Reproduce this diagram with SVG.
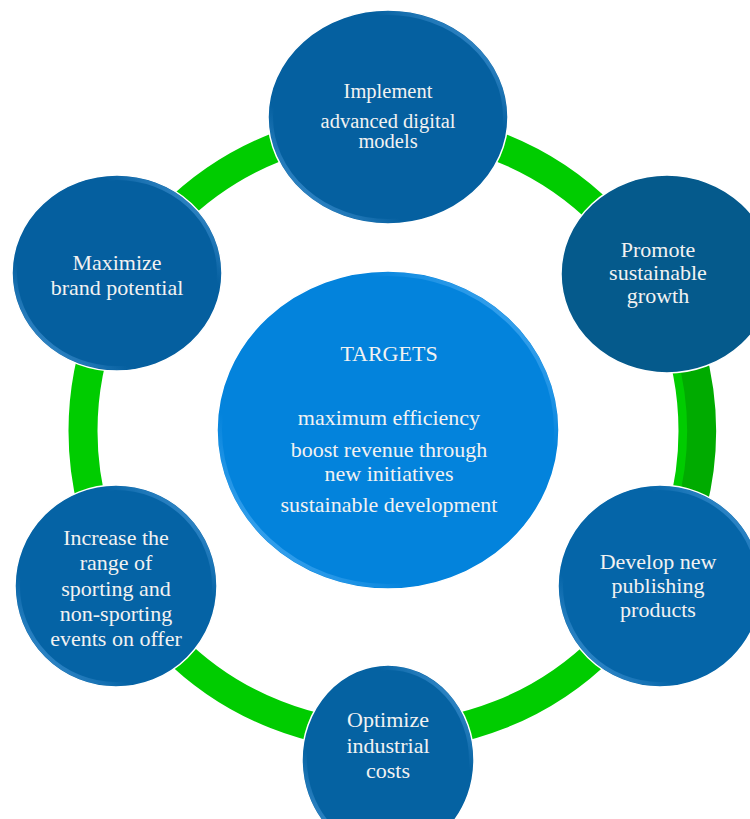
<svg xmlns="http://www.w3.org/2000/svg" width="750" height="819" viewBox="0 0 750 819">
  <defs>
    <linearGradient id="bevel" x1="1" y1="0" x2="0" y2="1">
      <stop offset="0" stop-color="#5aa8e8" stop-opacity="0.9"/>
      <stop offset="0.28" stop-color="#5aa8e8" stop-opacity="0"/>
      <stop offset="0.72" stop-color="#5aa8e8" stop-opacity="0"/>
      <stop offset="1" stop-color="#5aa8e8" stop-opacity="0.9"/>
    </linearGradient>
    <linearGradient id="bevelC" x1="1" y1="0" x2="0" y2="1">
      <stop offset="0" stop-color="#6cc0ff" stop-opacity="0.9"/>
      <stop offset="0.28" stop-color="#6cc0ff" stop-opacity="0"/>
      <stop offset="0.72" stop-color="#6cc0ff" stop-opacity="0"/>
      <stop offset="1" stop-color="#6cc0ff" stop-opacity="0.9"/>
    </linearGradient>
  </defs>
  <style>
    .node { stroke: #ffffff; stroke-width: 1.5; }
    .rim { fill: none; stroke: url(#bevel); stroke-width: 4; }
    .rimC { fill: none; stroke: url(#bevelC); stroke-width: 4; }
    .lbl { font-family: 'Liberation Serif', 'DejaVu Serif', serif; font-size: 22px; fill: #f2f2f2; text-anchor: middle; }
    .small { font-size: 20.5px; }
  </style>
  <rect width="750" height="819" fill="#ffffff"/>

  <g id="connectors">
    <circle cx="388" cy="431" r="305" fill="none" stroke="#00cc00" stroke-width="29"/>
    <path d="M 690.5 350 A 305 305 0 0 1 690.5 512" fill="none" stroke="#00ab00" stroke-width="29"/>
  </g>

  <g id="node-implement">
    <ellipse class="node" cx="388" cy="117" rx="120" ry="107" fill="#0560a0"/>
    <ellipse class="rim" cx="388" cy="117" rx="117" ry="104"/>
    <text class="lbl small" x="388" y="98" font-family="Liberation Serif, serif">Implement</text>
    <text class="lbl small" x="388" y="128" font-family="Liberation Serif, serif">advanced digital</text>
    <text class="lbl small" x="388" y="148" font-family="Liberation Serif, serif">models</text>
  </g>

  <g id="node-promote">
    <ellipse class="node" cx="667" cy="274" rx="106" ry="99" fill="#055a8c"/>
    <text class="lbl" x="658" y="257" font-family="Liberation Serif, serif">Promote</text>
    <text class="lbl" x="658" y="280" font-family="Liberation Serif, serif">sustainable</text>
    <text class="lbl" x="658" y="303" font-family="Liberation Serif, serif">growth</text>
  </g>

  <g id="node-maximize">
    <ellipse class="node" cx="117" cy="273" rx="105" ry="98" fill="#055f9f"/>
    <ellipse class="rim" cx="117" cy="273" rx="102" ry="95"/>
    <text class="lbl" x="117" y="270" font-family="Liberation Serif, serif">Maximize</text>
    <text class="lbl" x="117" y="295" font-family="Liberation Serif, serif">brand potential</text>
  </g>

  <g id="node-increase">
    <ellipse class="node" cx="116" cy="586" rx="101" ry="101" fill="#0563a5"/>
    <ellipse class="rim" cx="116" cy="586" rx="98" ry="98"/>
    <text class="lbl" x="116" y="545" font-family="Liberation Serif, serif">Increase the</text>
    <text class="lbl" x="116" y="570" font-family="Liberation Serif, serif">range of</text>
    <text class="lbl" x="116" y="596" font-family="Liberation Serif, serif">sporting and</text>
    <text class="lbl" x="116" y="621" font-family="Liberation Serif, serif">non-sporting</text>
    <text class="lbl" x="116" y="646" font-family="Liberation Serif, serif">events on offer</text>
  </g>

  <g id="node-develop">
    <ellipse class="node" cx="660" cy="586" rx="102" ry="101" fill="#0565a8"/>
    <ellipse class="rim" cx="660" cy="586" rx="99" ry="98"/>
    <text class="lbl" x="658" y="569" font-family="Liberation Serif, serif">Develop new</text>
    <text class="lbl" x="658" y="593" font-family="Liberation Serif, serif">publishing</text>
    <text class="lbl" x="658" y="617" font-family="Liberation Serif, serif">products</text>
  </g>

  <g id="node-optimize">
    <ellipse class="node" cx="388" cy="760" rx="86" ry="95" fill="#0562a2"/>
    <ellipse class="rim" cx="388" cy="760" rx="83" ry="92"/>
    <text class="lbl" x="388" y="727" font-family="Liberation Serif, serif">Optimize</text>
    <text class="lbl" x="388" y="753" font-family="Liberation Serif, serif">industrial</text>
    <text class="lbl" x="388" y="778" font-family="Liberation Serif, serif">costs</text>
  </g>

  <g id="node-targets">
    <ellipse class="node" cx="388" cy="430" rx="171" ry="159" fill="#0383dc"/>
    <ellipse class="rimC" cx="388" cy="430" rx="168" ry="156"/>
    <text class="lbl" x="389" y="361" font-family="Liberation Serif, serif">TARGETS</text>
    <text class="lbl" x="389" y="425" font-family="Liberation Serif, serif">maximum efficiency</text>
    <text class="lbl" x="389" y="457" font-family="Liberation Serif, serif">boost revenue through</text>
    <text class="lbl" x="389" y="481" font-family="Liberation Serif, serif">new initiatives</text>
    <text class="lbl" x="389" y="512" font-family="Liberation Serif, serif">sustainable development</text>
  </g>
</svg>
